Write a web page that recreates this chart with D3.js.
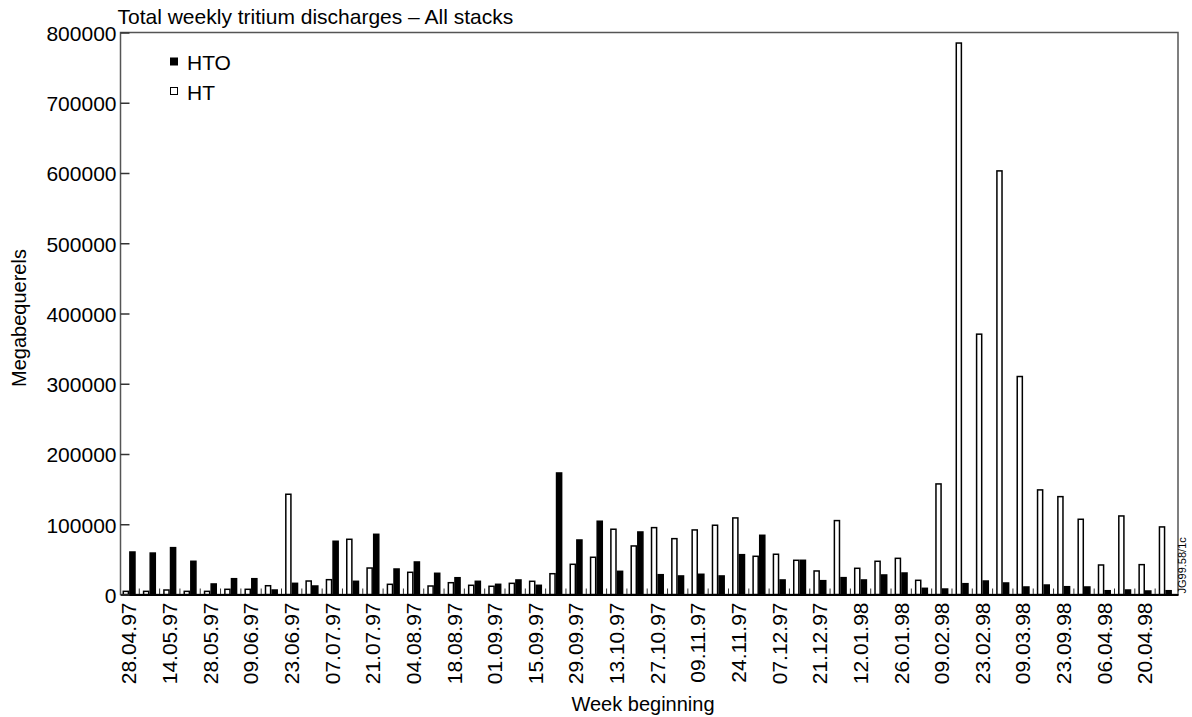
<!DOCTYPE html>
<html>
<head>
<meta charset="utf-8">
<script src="https://cdn.jsdelivr.net/npm/d3@7"></script>
<style>
    body { margin: 0; background: #fff; }
    svg { font-family: 'Liberation Sans', Arial, sans-serif; }
</style>
</head>
<body>
<svg width="1192" height="717"></svg>
<script>
// Week tick labels (every second week is labelled in the original)
const weekLabels = [
    '28.04.97', '', '14.05.97', '', '28.05.97', '', '09.06.97', '', '23.06.97', '',
    '07.07.97', '', '21.07.97', '', '04.08.97', '', '18.08.97', '', '01.09.97', '',
    '15.09.97', '', '29.09.97', '', '13.10.97', '', '27.10.97', '', '09.11.97', '',
    '24.11.97', '', '07.12.97', '', '21.12.97', '', '12.01.98', '', '26.01.98', '',
    '09.02.98', '', '23.02.98', '', '09.03.98', '', '23.09.98', '', '06.04.98', '',
    '20.04.98', ''
];
const seriesNames = ['HT', 'HTO'];
const htValues = [
    4500, 4500, 6400, 4500, 4500, 7400, 7400, 12500, 142700, 19200,
    21100, 78600, 37700, 14500, 31600, 12100, 16800, 13100, 11700, 15900,
    18800, 29600, 43000, 53000, 92900, 69100, 95200, 79500, 91900, 98600,
    109000, 54400, 57300, 48700, 33500, 105200, 37300, 47300, 51500, 20200,
    157400, 785000, 370600, 603000, 310300, 148900, 139300, 107100, 42000, 111800,
    42500, 96200
];
const htoValues = [
    60500, 59000, 66700, 47300, 15000, 22500, 22500, 6400, 15900, 12100,
    75800, 18800, 85700, 36300, 46300, 30200, 23900, 18800, 14500, 20700,
    13100, 173000, 77600, 104300, 33000, 89000, 28200, 26400, 28800, 26400,
    56700, 84300, 20700, 48700, 19700, 24000, 20700, 27800, 30600, 8800,
    7800, 15400, 19200, 16400, 10700, 13500, 11100, 10700, 5400, 6400,
    5000, 5400
];
const yTicks = [0, 100000, 200000, 300000, 400000, 500000, 600000, 700000, 800000];

function drawChart() {
    const width = 1192;
    const height = 717;
    const padding = { top: 32.5, right: 14, bottom: 122.5, left: 120.5 };
    const svg = d3.select('svg');
    svg.selectAll('*').remove();

    const rows = weekLabels.map((label, i) => ({ i, label, HT: htValues[i], HTO: htoValues[i] }));

    const x0 = d3.scaleBand()
        .domain(rows.map(d => d.i))
        .range([padding.left, width - padding.right])
        .paddingInner(0.35)
        .paddingOuter(0.2)
        .align(0.25);
    const x1 = d3.scaleBand()
        .domain(seriesNames)
        .range([0, x0.bandwidth()]);
    const yScale = d3.scaleLinear()
        .domain([0, 800000])
        .range([height - padding.bottom, padding.top]);
    const fill = d3.scaleOrdinal().domain(seriesNames).range(['#fff', '#000']);

    // Plot frame
    svg.append('rect')
        .attr('x', padding.left)
        .attr('y', padding.top)
        .attr('width', width - padding.left - padding.right)
        .attr('height', height - padding.top - padding.bottom)
        .attr('fill', 'none')
        .attr('stroke', '#555')
        .attr('stroke-width', 1.5);

    // Bars
    svg.append('g')
        .selectAll('g')
        .data(rows)
        .join('g')
        .attr('transform', d => `translate(${x0(d.i)},0)`)
        .selectAll('rect')
        .data(d => seriesNames.map(key => ({ key, value: d[key] })))
        .join('rect')
        .attr('x', d => x1(d.key) + 0.75)
        .attr('y', d => yScale(d.value))
        .attr('width', x1.bandwidth() - 1.5)
        .attr('height', d => yScale(0) - yScale(d.value))
        .attr('fill', d => fill(d.key))
        .attr('stroke', '#000')
        .attr('stroke-width', 1.5);

    // Week separator ticks (inward)
    const gap = x0.step() * x0.paddingInner() / 2;
    svg.append('g')
        .selectAll('line')
        .data(rows.slice(1))
        .join('line')
        .attr('x1', d => x0(d.i) - gap)
        .attr('x2', d => x0(d.i) - gap)
        .attr('y1', yScale(0))
        .attr('y2', yScale(0) - 6)
        .attr('stroke', '#333')
        .attr('stroke-width', 1);

    // Axes
    const xAxis = d3.axisBottom(x0)
        .tickSize(0)
        .tickPadding(0)
        .tickFormat(i => weekLabels[i]);
    const gx = svg.append('g')
        .attr('transform', `translate(0, ${height - padding.bottom})`)
        .call(xAxis);
    gx.select('.domain')
        .attr('stroke', '#000')
        .attr('stroke-width', 2);
    gx.selectAll('text')
        .attr('transform', 'rotate(-90)')
        .attr('x', -8)
        .attr('y', 0)
        .attr('dy', '0.35em')
        .style('text-anchor', 'end')
        .style('font-size', '21px')
        .attr('fill', '#000');

    const yAxis = d3.axisLeft(yScale)
        .tickValues(yTicks)
        .tickSizeInner(-9)
        .tickSizeOuter(0)
        .tickPadding(4)
        .tickFormat(d3.format('d'));
    const gy = svg.append('g')
        .attr('transform', `translate(${padding.left}, 0)`)
        .call(yAxis);
    gy.select('.domain').remove();
    gy.selectAll('line').attr('stroke', '#333').attr('stroke-width', 1.5);
    gy.selectAll('text')
        .attr('dy', '0.38em')
        .style('font-size', '21px')
        .attr('fill', '#000');

    // Title
    svg.append('text')
        .text('Total weekly tritium discharges \u2013 All stacks')
        .attr('x', padding.left - 3)
        .attr('y', padding.top - 9)
        .style('font-size', '21px');

    // Legend
    const legend = svg.append('g')
        .selectAll('g')
        .data(['HTO', 'HT'])
        .join('g')
        .attr('transform', (d, i) => `translate(170.5, ${58 + i * 29.5})`);
    legend.append('rect')
        .attr('width', 7)
        .attr('height', 7)
        .attr('fill', d => fill(d))
        .attr('stroke', '#000')
        .attr('stroke-width', 1);
    legend.append('text')
        .text(d => d)
        .attr('x', 16.5)
        .attr('y', 12)
        .style('font-size', '21px');

    // Axis labels
    svg.append('text')
        .text('Week beginning')
        .attr('x', 643)
        .attr('y', height - 6)
        .style('text-anchor', 'middle')
        .style('font-size', '20px');
    svg.append('text')
        .text('Megabequerels')
        .attr('x', -318)
        .attr('y', 26)
        .attr('transform', 'rotate(-90)')
        .style('text-anchor', 'middle')
        .style('font-size', '20px');

    // Figure reference
    svg.append('text')
        .text('JG99.58/1c')
        .attr('x', -(height - padding.bottom) + 1)
        .attr('y', width - 6)
        .attr('transform', 'rotate(-90)')
        .style('text-anchor', 'start')
        .style('font-size', '11px');
}

window.addEventListener('load', drawChart);
</script>
</body>
</html>
